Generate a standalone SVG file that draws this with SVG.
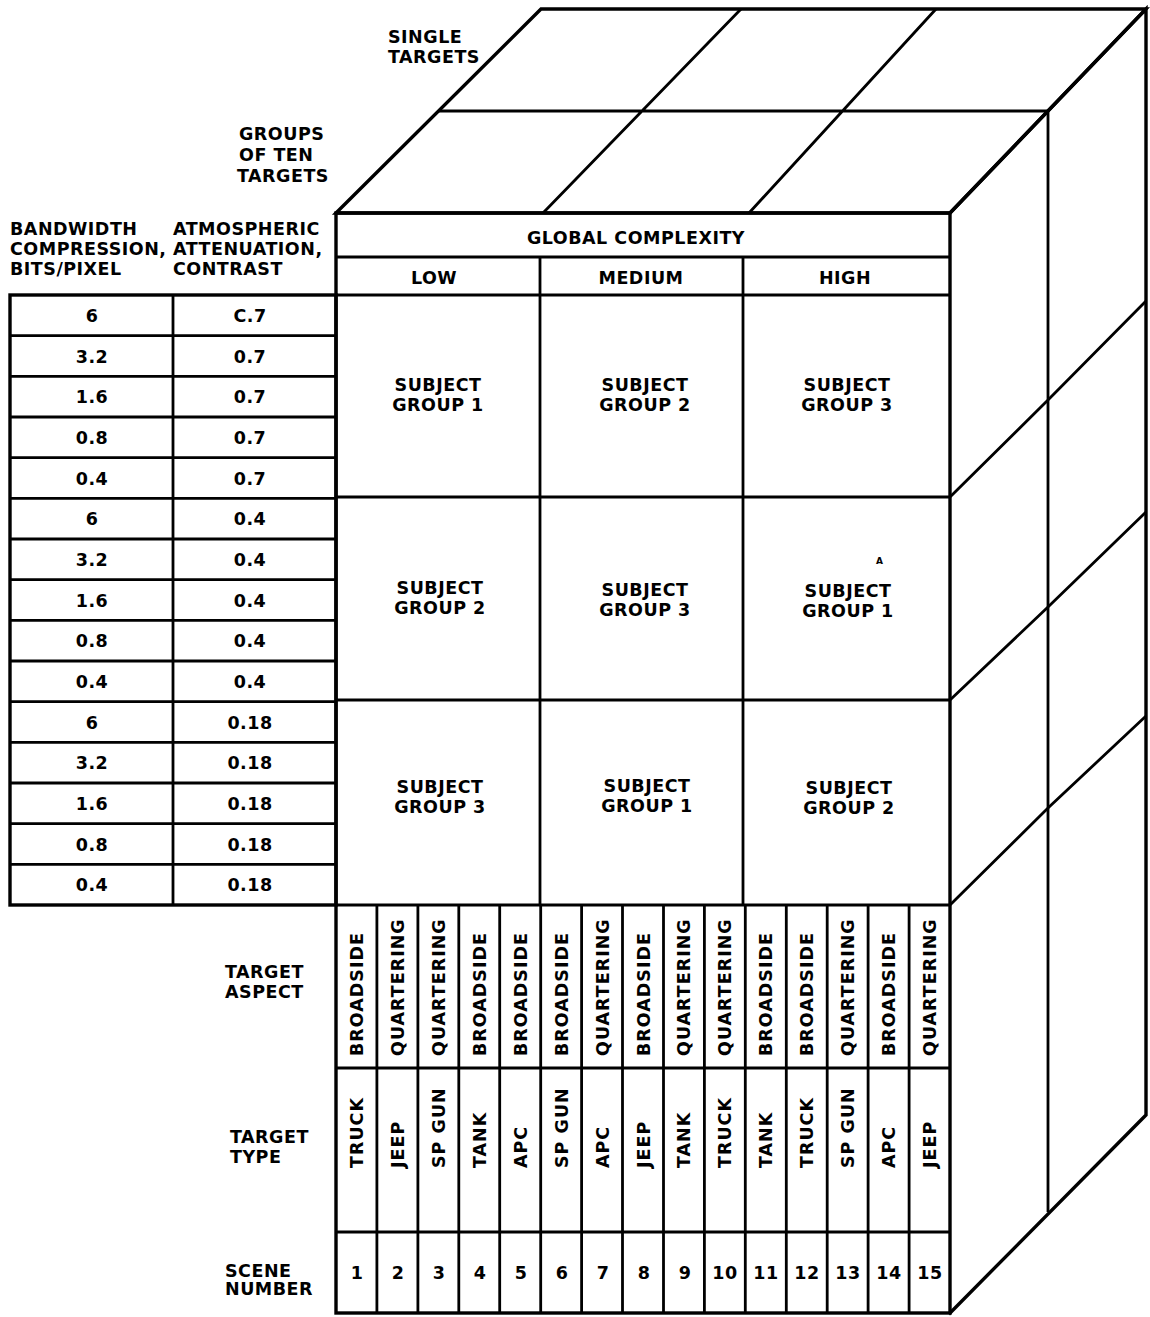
<svg xmlns="http://www.w3.org/2000/svg" width="1150" height="1317" viewBox="0 0 1150 1317">
<style>
text{font-family:"DejaVu Sans","Liberation Sans",sans-serif;font-weight:bold;font-size:17.5px;letter-spacing:0.5px;fill:#000}
.m{text-anchor:middle}
.v{letter-spacing:1px}
.k{stroke:#000;stroke-width:3.4;fill:none;stroke-linejoin:miter;stroke-linecap:square}
.t{stroke:#000;stroke-width:2.8;fill:none}
</style>
<rect width="1150" height="1317" fill="#fff"/>

<g id="cube-top">
<path class="k" d="M336,213 L541,9 L1146,9 L950,213 Z"/>
<path class="t" d="M439,111 L1047,111 M543,213 L741,9 M749,213 L936,9"/>
</g>

<g id="cube-right">
<path class="k" d="M950,213 L1146,9 L1146,1115 L950,1313"/>
<path class="t" d="M1048,111 L1048,1212"/>
<path class="t" d="M950,497 L1048,400 L1146,301 M950,700 L1048,607 L1146,512 M950,905 L1048,808 L1146,716"/>
</g>

<g id="front-face">
<rect class="k" x="336" y="213" width="614" height="1100"/>
<path class="t" d="M336,257 H950 M336,295 H950 M336,497 H950 M336,700 H950 M336,905 H950 M336,1068 H950 M336,1232 H950 M540,257 V905 M743,257 V905"/>
<path class="t" d="M376.9,905 V1313 M417.9,905 V1313 M458.8,905 V1313 M499.7,905 V1313 M540.7,905 V1313 M581.6,905 V1313 M622.5,905 V1313 M663.5,905 V1313 M704.4,905 V1313 M745.3,905 V1313 M786.3,905 V1313 M827.2,905 V1313 M868.1,905 V1313 M909.1,905 V1313"/>
<text class="m" x="636" y="244">GLOBAL COMPLEXITY</text>
<text class="m" x="434" y="284">LOW</text>
<text class="m" x="641" y="284">MEDIUM</text>
<text class="m" x="845" y="284">HIGH</text>
</g>

<g id="subject-groups">
<text class="m" x="438" y="391">SUBJECT</text><text class="m" x="438" y="411">GROUP 1</text>
<text class="m" x="645" y="391">SUBJECT</text><text class="m" x="645" y="411">GROUP 2</text>
<text class="m" x="847" y="391">SUBJECT</text><text class="m" x="847" y="411">GROUP 3</text>
<text class="m" x="440" y="594">SUBJECT</text><text class="m" x="440" y="614">GROUP 2</text>
<text class="m" x="645" y="596">SUBJECT</text><text class="m" x="645" y="616">GROUP 3</text>
<text class="m" x="848" y="597">SUBJECT</text><text class="m" x="848" y="617">GROUP 1</text>
<text x="876" y="564" style="font-size:9px;letter-spacing:0">A</text>
<text class="m" x="440" y="793">SUBJECT</text><text class="m" x="440" y="813">GROUP 3</text>
<text class="m" x="647" y="792">SUBJECT</text><text class="m" x="647" y="812">GROUP 1</text>
<text class="m" x="849" y="794">SUBJECT</text><text class="m" x="849" y="814">GROUP 2</text>
</g>

<g id="target-aspect">
<text class="v" transform="translate(363,1056) rotate(-90)">BROADSIDE</text>
<text class="v" transform="translate(403.9,1056) rotate(-90)">QUARTERING</text>
<text class="v" transform="translate(444.8,1056) rotate(-90)">QUARTERING</text>
<text class="v" transform="translate(485.8,1056) rotate(-90)">BROADSIDE</text>
<text class="v" transform="translate(526.7,1056) rotate(-90)">BROADSIDE</text>
<text class="v" transform="translate(567.6,1056) rotate(-90)">BROADSIDE</text>
<text class="v" transform="translate(608.6,1056) rotate(-90)">QUARTERING</text>
<text class="v" transform="translate(649.5,1056) rotate(-90)">BROADSIDE</text>
<text class="v" transform="translate(690.4,1056) rotate(-90)">QUARTERING</text>
<text class="v" transform="translate(731.4,1056) rotate(-90)">QUARTERING</text>
<text class="v" transform="translate(772.3,1056) rotate(-90)">BROADSIDE</text>
<text class="v" transform="translate(813.2,1056) rotate(-90)">BROADSIDE</text>
<text class="v" transform="translate(854.2,1056) rotate(-90)">QUARTERING</text>
<text class="v" transform="translate(895.1,1056) rotate(-90)">BROADSIDE</text>
<text class="v" transform="translate(936,1056) rotate(-90)">QUARTERING</text>
</g>

<g id="target-type">
<text class="v" transform="translate(363,1168) rotate(-90)">TRUCK</text>
<text class="v" transform="translate(403.9,1168) rotate(-90)">JEEP</text>
<text class="v" transform="translate(444.8,1168) rotate(-90)">SP GUN</text>
<text class="v" transform="translate(485.8,1168) rotate(-90)">TANK</text>
<text class="v" transform="translate(526.7,1168) rotate(-90)">APC</text>
<text class="v" transform="translate(567.6,1168) rotate(-90)">SP GUN</text>
<text class="v" transform="translate(608.6,1168) rotate(-90)">APC</text>
<text class="v" transform="translate(649.5,1168) rotate(-90)">JEEP</text>
<text class="v" transform="translate(690.4,1168) rotate(-90)">TANK</text>
<text class="v" transform="translate(731.4,1168) rotate(-90)">TRUCK</text>
<text class="v" transform="translate(772.3,1168) rotate(-90)">TANK</text>
<text class="v" transform="translate(813.2,1168) rotate(-90)">TRUCK</text>
<text class="v" transform="translate(854.2,1168) rotate(-90)">SP GUN</text>
<text class="v" transform="translate(895.1,1168) rotate(-90)">APC</text>
<text class="v" transform="translate(936,1168) rotate(-90)">JEEP</text>
</g>

<g id="scene-number">
<text class="m" x="357" y="1279">1</text>
<text class="m" x="398" y="1279">2</text>
<text class="m" x="439" y="1279">3</text>
<text class="m" x="480" y="1279">4</text>
<text class="m" x="521" y="1279">5</text>
<text class="m" x="562" y="1279">6</text>
<text class="m" x="603" y="1279">7</text>
<text class="m" x="644" y="1279">8</text>
<text class="m" x="685" y="1279">9</text>
<text class="m" x="725" y="1279">10</text>
<text class="m" x="766" y="1279">11</text>
<text class="m" x="807" y="1279">12</text>
<text class="m" x="848" y="1279">13</text>
<text class="m" x="889" y="1279">14</text>
<text class="m" x="930" y="1279">15</text>
</g>

<g id="row-labels">
<text x="388" y="43">SINGLE</text>
<text x="388" y="63">TARGETS</text>
<text x="239" y="140">GROUPS</text>
<text x="239" y="161">OF TEN</text>
<text x="237" y="182">TARGETS</text>
<text x="225" y="978">TARGET</text>
<text x="225" y="998">ASPECT</text>
<text x="230" y="1143">TARGET</text>
<text x="230" y="1163">TYPE</text>
<text x="225" y="1277">SCENE</text>
<text x="225" y="1295">NUMBER</text>
</g>

<g id="left-table">
<text x="10" y="235">BANDWIDTH</text>
<text x="10" y="255">COMPRESSION,</text>
<text x="10" y="275">BITS/PIXEL</text>
<text x="173" y="235">ATMOSPHERIC</text>
<text x="173" y="255">ATTENUATION,</text>
<text x="173" y="275">CONTRAST</text>
<rect class="k" x="10" y="295" width="326" height="610"/>
<path class="t" d="M173,295 V905 M10,335.7 H336 M10,376.3 H336 M10,417 H336 M10,457.7 H336 M10,498.3 H336 M10,539 H336 M10,579.7 H336 M10,620.3 H336 M10,661 H336 M10,701.7 H336 M10,742.3 H336 M10,783 H336 M10,823.7 H336 M10,864.3 H336"/>
<g>
<text class="m" x="92" y="322">6</text><text class="m" x="250" y="322">C.7</text>
<text class="m" x="92" y="362.7">3.2</text><text class="m" x="250" y="362.7">0.7</text>
<text class="m" x="92" y="403.3">1.6</text><text class="m" x="250" y="403.3">0.7</text>
<text class="m" x="92" y="444">0.8</text><text class="m" x="250" y="444">0.7</text>
<text class="m" x="92" y="484.7">0.4</text><text class="m" x="250" y="484.7">0.7</text>
<text class="m" x="92" y="525.3">6</text><text class="m" x="250" y="525.3">0.4</text>
<text class="m" x="92" y="566">3.2</text><text class="m" x="250" y="566">0.4</text>
<text class="m" x="92" y="606.7">1.6</text><text class="m" x="250" y="606.7">0.4</text>
<text class="m" x="92" y="647.3">0.8</text><text class="m" x="250" y="647.3">0.4</text>
<text class="m" x="92" y="688">0.4</text><text class="m" x="250" y="688">0.4</text>
<text class="m" x="92" y="728.7">6</text><text class="m" x="250" y="728.7">0.18</text>
<text class="m" x="92" y="769.3">3.2</text><text class="m" x="250" y="769.3">0.18</text>
<text class="m" x="92" y="810">1.6</text><text class="m" x="250" y="810">0.18</text>
<text class="m" x="92" y="850.7">0.8</text><text class="m" x="250" y="850.7">0.18</text>
<text class="m" x="92" y="891.3">0.4</text><text class="m" x="250" y="891.3">0.18</text>
</g>
</g>
</svg>
